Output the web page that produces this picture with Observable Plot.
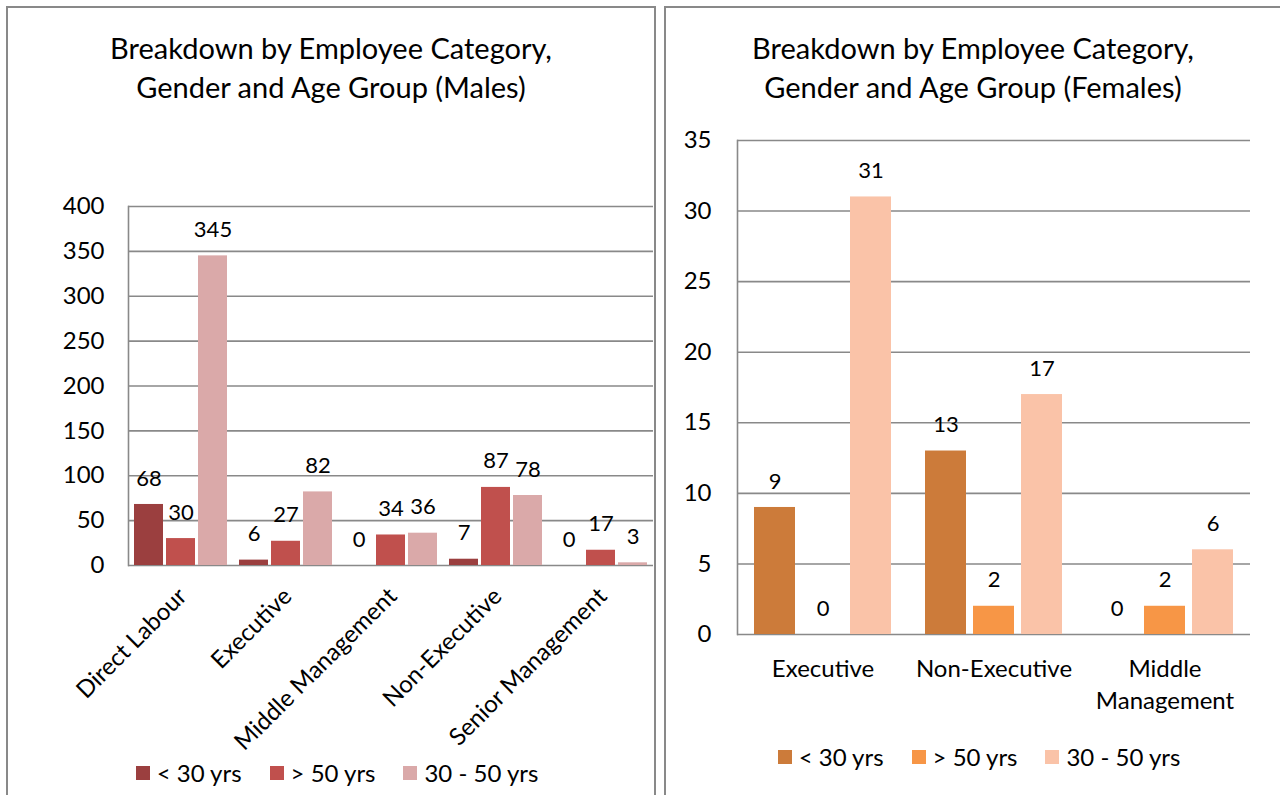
<!DOCTYPE html>
<html>
<head>
<meta charset="utf-8">
<script src="https://cdn.jsdelivr.net/npm/d3@7"></script>
<script src="https://cdn.jsdelivr.net/npm/@observablehq/plot@0.6"></script>
<style>
  html, body { margin: 0; padding: 0; background: #fff; width: 1280px; height: 795px; overflow: hidden; font-family: Lato, "Open Sans", sans-serif; color: #000; }
  .panel { position: absolute; border: 2px solid #898989; box-sizing: border-box; }
  .title { position: absolute; text-align: center; font-size: 29px; line-height: 39px; color: #000; }
  .chart { position: absolute; }
  .legend { position: absolute; display: flex; justify-content: center; align-items: center; font-size: 24px; line-height: 28px; }
  .legend .item { display: flex; align-items: center; margin: 0 14px; }
  .legend .sw { width: 14px; height: 14px; margin-right: 7px; }
</style>
</head>
<body>
<div class="panel" style="left:6px; top:6px; width:650px; height:900px;"></div>
<div class="panel" style="left:664px; top:6px; width:700px; height:900px;"></div>
<div class="title" style="left:6px; top:28px; width:650px;">Breakdown by Employee Category,<br>Gender and Age Group (Males)</div>
<div class="title" style="left:664px; top:28px; width:618px;">Breakdown by Employee Category,<br>Gender and Age Group (Females)</div>
<div class="chart" id="male" style="left:7px; top:150px;"></div>
<div class="chart" id="female" style="left:665px; top:120px;"></div>
<div class="legend" id="maleLegend" style="left:6px; top:759px; width:662px;"></div>
<div class="legend" id="femaleLegend" style="left:664px; top:743px; width:630px;"></div>
<script>
// ---- data ----
const ageGroups = ["< 30 yrs", "> 50 yrs", "30 - 50 yrs"];

const maleCategories = ["Direct Labour", "Executive", "Middle Management", "Non-Executive", "Senior Management"];
const maleUnder30 = [68, 6, 0, 7, 0];
const maleOver50 = [30, 27, 34, 87, 17];
const male30to50 = [345, 82, 36, 78, 3];
const maleTicks = [0, 50, 100, 150, 200, 250, 300, 350, 400];
const maleColors = ["#9B3F3F", "#C0504D", "#DAA9A9"];

const femaleCategories = ["Executive", "Non-Executive", "Middle Management"];
const femaleUnder30 = [9, 13, 0];
const femaleOver50 = [0, 2, 2];
const female30to50 = [31, 17, 6];
const femaleTicks = [0, 5, 10, 15, 20, 25, 30, 35];
const femaleColors = ["#CC7B3A", "#F79646", "#FAC3A8"];

function toRows(cats, a, b, c) {
  return cats.flatMap((cat, i) => [
    {category: cat, age: ageGroups[0], value: a[i]},
    {category: cat, age: ageGroups[1], value: b[i]},
    {category: cat, age: ageGroups[2], value: c[i]}
  ]);
}
const maleData = toRows(maleCategories, maleUnder30, maleOver50, male30to50);
const femaleData = toRows(femaleCategories, femaleUnder30, femaleOver50, female30to50);

const gridColor = "#898989";
const font = "Lato, 'Open Sans', sans-serif";

function chart(data, cats, ticks, colors, opts) {
  return Plot.plot({
    width: opts.width,
    height: opts.height,
    marginLeft: opts.ml,
    marginRight: opts.mr,
    marginTop: opts.mt,
    marginBottom: opts.mb,
    style: {fontFamily: font, fontSize: "22px", color: "#000", background: "transparent", overflow: "visible"},
    fx: {domain: cats, padding: 0, label: null},
    x: {domain: ageGroups, axis: null, paddingInner: opts.pi, paddingOuter: opts.po},
    y: {domain: [ticks[0], ticks[ticks.length - 1]], label: null},
    color: {domain: ageGroups, range: colors},
    marks: [
      Plot.ruleY(ticks, {stroke: gridColor, strokeWidth: 1.6, strokeOpacity: 1}),
      Plot.frame({anchor: "left", facetAnchor: "left", stroke: gridColor, strokeWidth: 1.6}),
      Plot.axisY(ticks, {anchor: "left", tickSize: 0, tickPadding: opts.yPad, fontSize: 24, label: null}),
      Plot.axisFx({anchor: "bottom", tickSize: 0, tickPadding: opts.fxPad, tickRotate: opts.rotate, fontSize: 24, lineHeight: 1.33, tickFormat: opts.fxFormat, label: null}),
      Plot.barY(data, {fx: "category", x: "age", y: "value", fill: "age"}),
      Plot.text(data, {fx: "category", x: "age", y: "value", text: d => String(d.value), dy: -26, fontSize: 22, fill: "#000"})
    ]
  });
}

document.getElementById("male").appendChild(chart(maleData, maleCategories, maleTicks, maleColors, {
  width: 648, height: 640, ml: 120, mr: 2, mt: 56, mb: 225,
  pi: 0.08, po: 0.134, yPad: 24, fxPad: 25, rotate: -45, fxFormat: d => d
}));
document.getElementById("female").appendChild(chart(femaleData, femaleCategories, femaleTicks, femaleColors, {
  width: 615, height: 620, ml: 71, mr: 29, mt: 20, mb: 106,
  pi: 0.14, po: 0.347, yPad: 26, fxPad: 20, rotate: 0, fxFormat: d => d === "Middle Management" ? "Middle\nManagement" : d
}));

function legend(el, colors) {
  const root = document.getElementById(el);
  ageGroups.forEach((g, i) => {
    const item = document.createElement("div");
    item.className = "item";
    const sw = document.createElement("div");
    sw.className = "sw";
    sw.style.background = colors[i];
    const t = document.createElement("span");
    t.textContent = g;
    item.appendChild(sw);
    item.appendChild(t);
    root.appendChild(item);
  });
}
legend("maleLegend", maleColors);
legend("femaleLegend", femaleColors);
</script>
</body>
</html>
